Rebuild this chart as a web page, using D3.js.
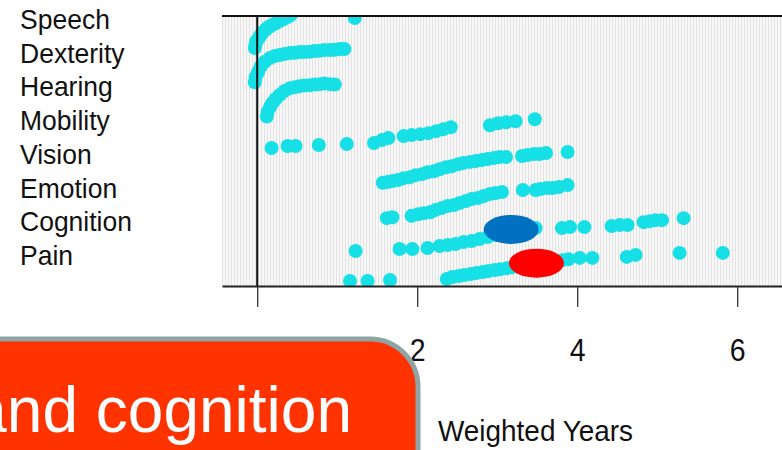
<!DOCTYPE html>
<html>
<head>
<meta charset="utf-8">
<script src="https://cdn.jsdelivr.net/npm/d3@7"></script>
<style>
  html, body { margin: 0; padding: 0; background: #fff; overflow: hidden; }
  svg { display: block; font-family: "Liberation Sans", Arial, sans-serif; }
</style>
</head>
<body>
<svg id="chart"></svg>
<script>
// categorias, de cima para baixo
const categories = ["Speech", "Dexterity", "Hearing", "Mobility", "Vision", "Emotion", "Cognition", "Pain"];

// pontos de cada categoria: [anos ponderados, deslocamento dentro da faixa]
const speech = [[-0.03,0.07],[-0.02,0.19],[-0.01,0.28],[0.02,0.37],[0.04,0.46],[0.07,0.55],[0.11,0.64],[0.14,0.70],
  [0.18,0.76],[0.23,0.82],[0.28,0.89],[0.33,0.95],[0.38,1.01],[0.42,1.07],[1.22,0.98]];
const dexterity = [[-0.03,0.04],[-0.02,0.19],[0.01,0.34],[0.04,0.50],[0.09,0.65],[0.16,0.77],[0.22,0.83],[0.28,0.86],
  [0.34,0.89],[0.41,0.92],[0.47,0.93],[0.53,0.95],[0.59,0.95],[0.66,0.96],[0.72,0.98],[0.78,0.99],[0.84,1.01],
  [0.91,1.01],[0.97,1.02],[1.03,1.04],[1.09,1.04]];
const hearing = [[0.12,0.00],[0.13,0.14],[0.16,0.29],[0.19,0.41],[0.23,0.53],[0.28,0.65],[0.34,0.77],[0.41,0.86],
  [0.47,0.89],[0.53,0.92],[0.59,0.94],[0.66,0.95],[0.72,0.97],[0.78,0.98],[0.84,1.00],[0.91,0.98],[0.97,0.97]];
const mobility = [[0.18,0.05],[0.38,0.11],[0.48,0.11],[0.77,0.14],[1.12,0.17],[1.46,0.20],[1.56,0.29],[1.64,0.35],
  [1.83,0.41],[1.93,0.44],[2.04,0.47],[2.14,0.50],[2.24,0.56],[2.33,0.62],[2.42,0.68],[2.91,0.74],[3.01,0.80],
  [3.11,0.83],[3.23,0.86],[3.47,0.92]];
const vision = [[1.57,0.00],[1.63,0.02],[1.69,0.05],[1.76,0.08],[1.83,0.14],[1.91,0.17],[1.98,0.23],[2.06,0.26],
  [2.13,0.32],[2.21,0.35],[2.28,0.41],[2.36,0.47],[2.43,0.50],[2.51,0.56],[2.58,0.60],[2.66,0.63],[2.73,0.66],
  [2.81,0.69],[2.88,0.72],[2.96,0.75],[3.03,0.78],[3.11,0.78],[3.31,0.81],[3.38,0.84],[3.46,0.87],[3.53,0.87],
  [3.61,0.90],[3.88,0.93]];
const emotion = [[1.62,-0.07],[1.69,-0.04],[1.93,0.00],[2.01,0.05],[2.08,0.08],[2.16,0.11],[2.23,0.18],[2.31,0.24],
  [2.38,0.30],[2.46,0.33],[2.53,0.39],[2.61,0.45],[2.68,0.51],[2.76,0.54],[2.83,0.60],[2.91,0.66],[2.98,0.69],
  [3.06,0.72],[3.32,0.78],[3.48,0.78],[3.54,0.81],[3.62,0.84],[3.69,0.84],[3.77,0.87],[3.88,0.93]];
const cognition = [[1.23,-0.06],[1.78,0.00],[1.94,0.00],[2.13,0.03],[2.28,0.09],[2.38,0.12],[2.48,0.15],[2.58,0.21],
  [2.68,0.24],[2.78,0.30],[2.88,0.36],[2.98,0.42],[3.08,0.45],[3.18,0.51],[3.28,0.54],[3.38,0.60],[3.48,0.63],
  [3.81,0.63],[3.91,0.66],[4.09,0.66],[4.43,0.69],[4.53,0.72],[4.63,0.72],[4.83,0.81],[4.91,0.84],[4.98,0.87],
  [5.06,0.87],[5.33,0.93]];
const pain = [[1.16,0.03],[1.38,0.03],[1.66,0.06],[2.37,0.09],[2.44,0.15],[2.52,0.18],[2.59,0.21],[2.67,0.24],
  [2.74,0.27],[2.82,0.30],[2.89,0.33],[2.97,0.36],[3.04,0.39],[3.12,0.42],[3.19,0.45],[3.27,0.48],[3.34,0.51],
  [3.42,0.54],[3.49,0.57],[3.57,0.60],[3.64,0.60],[3.72,0.63],[3.81,0.66],[3.89,0.69],[4.03,0.73],[4.19,0.73],
  [4.62,0.76],[4.73,0.82],[5.28,0.88],[5.82,0.88]];
const seriesByCategory = [speech, dexterity, hearing, mobility, vision, emotion, cognition, pain];

// marcações (elipses) sobre Cognition e Pain
const highlightCategories = ["Cognition", "Pain"];
const highlightYears = [3.175, 3.49];
const highlightLift = [0.59, 0.57];
const highlightColors = ["#0070c0", "#ff0000"];

const xTicks = [0, 2, 4, 6];
const xTitle = "Weighted Years";
const calloutText = "and cognition";

const width = 782, height = 450;
const plot = { left: 222, right: 782, top: 16, bottom: 286 };

const svg = d3.select("#chart").attr("width", width).attr("height", height);

// escalas
const x = d3.scaleLinear().domain([-0.44, 6.56]).range([plot.left, plot.right]);
const y = d3.scaleLinear().domain([0.88, 9.04]).range([plot.bottom, plot.top]);
const bandOf = c => categories.length - categories.indexOf(c); // Pain = 1 ... Speech = 8

// fundo listrado
const defs = svg.append("defs");
const pat = defs.append("pattern")
  .attr("id", "stripes")
  .attr("patternUnits", "userSpaceOnUse")
  .attr("width", 3).attr("height", 10);
pat.append("rect").attr("width", 3).attr("height", 10).attr("fill", "#f8f8f8");
pat.append("rect").attr("width", 1).attr("height", 10).attr("fill", "#e2e2e2");

defs.append("clipPath").attr("id", "clip")
  .append("rect")
  .attr("x", plot.left).attr("y", plot.top)
  .attr("width", plot.right - plot.left).attr("height", plot.bottom - plot.top);

svg.append("rect")
  .attr("x", plot.left).attr("y", plot.top)
  .attr("width", plot.right - plot.left).attr("height", plot.bottom - plot.top)
  .attr("fill", "url(#stripes)");

// pontos
const points = [];
seriesByCategory.forEach((s, i) => {
  s.forEach(d => points.push({ cat: categories[i], years: d[0], lift: d[1] }));
});

svg.append("g")
  .attr("clip-path", "url(#clip)")
  .selectAll("circle")
  .data(points)
  .enter()
  .append("circle")
  .attr("cx", d => x(d.years))
  .attr("cy", d => y(bandOf(d.cat) + d.lift))
  .attr("r", 7)
  .attr("fill", "#16e0e6");

// linha vertical em zero
svg.append("line")
  .attr("x1", x(0)).attr("x2", x(0))
  .attr("y1", plot.top).attr("y2", plot.bottom)
  .attr("stroke", "#111").attr("stroke-width", 2);

// borda superior
svg.append("line")
  .attr("x1", plot.left).attr("x2", plot.right)
  .attr("y1", plot.top).attr("y2", plot.top)
  .attr("stroke", "#111").attr("stroke-width", 2);

// eixo X
const xAxis = svg.append("g")
  .attr("transform", `translate(0,${plot.bottom})`)
  .call(
    d3.axisBottom(x)
    .tickValues(xTicks)
    .tickFormat(d3.format("d"))
    .tickSize(21)
    .tickSizeOuter(0)
    .tickPadding(32)
  );
xAxis.select(".domain").attr("stroke", "#222").attr("stroke-width", 2);
xAxis.selectAll(".tick line").attr("stroke", "#333").attr("stroke-width", 1.3);
xAxis.selectAll("text")
  .attr("fill", "#111")
  .attr("transform", "scale(0.92,1)")
  .style("font-size", "31px")
  .style("font-family", "'Liberation Sans', Arial, sans-serif");

// título do eixo
svg.append("text")
  .attr("x", 438).attr("y", 441)
  .attr("textLength", 195)
  .attr("lengthAdjust", "spacingAndGlyphs")
  .style("font-size", "30px")
  .attr("fill", "#111")
  .text(xTitle);

// rótulos das categorias
const labelY = d3.scalePoint().domain(categories).range([29, 265]);
svg.append("g")
  .attr("transform", "translate(20,0) scale(0.93,1)")
  .selectAll("text")
  .data(categories)
  .enter()
  .append("text")
  .attr("x", 0)
  .attr("y", d => labelY(d))
  .style("font-size", "28.5px")
  .attr("fill", "#111")
  .text(d => d);

// elipses de destaque
svg.append("g")
  .selectAll("ellipse")
  .data(highlightCategories)
  .enter()
  .append("ellipse")
  .attr("cx", (d, i) => x(highlightYears[i]))
  .attr("cy", (d, i) => y(bandOf(d) + highlightLift[i]))
  .attr("rx", 27.5)
  .attr("ry", 14.5)
  .attr("fill", (d, i) => highlightColors[i]);

// caixa laranja do slide
svg.append("rect")
  .attr("x", -60).attr("y", 339)
  .attr("width", 478).attr("height", 160)
  .attr("rx", 48).attr("ry", 48)
  .attr("fill", "#ff3300")
  .attr("stroke", "#8fa4a4")
  .attr("stroke-width", 5);

svg.append("text")
  .attr("x", 352).attr("y", 432)
  .attr("text-anchor", "end")
  .style("font-size", "64px")
  .attr("fill", "#fff")
  .text(calloutText);
</script>
</body>
</html>
